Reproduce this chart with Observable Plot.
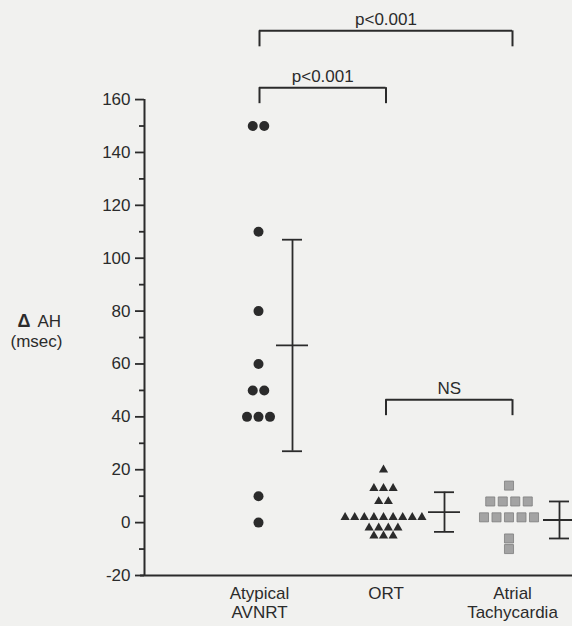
<!DOCTYPE html>
<html>
<head>
<meta charset="utf-8">
<script src="https://cdn.jsdelivr.net/npm/d3@7"></script>
<script src="https://cdn.jsdelivr.net/npm/@observablehq/plot@0.6"></script>
<style>
  html, body { margin: 0; padding: 0; background: #f1f1ef; }
  #chart { width: 572px; height: 626px; }
</style>
</head>
<body>
<div id="chart"></div>
<script>
// ---- data ----
const categories = ["Atypical\nAVNRT", "ORT", "Atrial\nTachycardia"];
const avnrtValues = [150, 150, 110, 80, 60, 50, 50, 40, 40, 40, 10, 0];
const ortValues = [20, 13, 13, 13, 8, 8, 2, 2, 2, 2, 2, 2, 2, 2, 2, -2, -2, -2, -2, -5, -5, -5];
const atrialValues = [14, 8, 8, 8, 8, 2, 2, 2, 2, 2, -6, -10];
const groupMeans = [67, 4, 1];
const groupSDs = [40, 7.5, 7];
const yTicks = [-20, 0, 20, 40, 60, 80, 100, 120, 140, 160];
const yMinorTicks = [-10, 10, 30, 50, 70, 90, 110, 130, 150];
const comparisons = [
  {from: 1, to: 3, label: "p<0.001", level: 186},
  {from: 1, to: 2, label: "p<0.001", level: 164.5},
  {from: 2, to: 3, label: "NS", level: 46.5}
];
const yLabelLines = ["AH", "(msec)"];

// ---- layout ----
const W = 572, H = 626;
const marginLeft = 144, marginRight = 0, marginTop = 0, marginBottom = 51;
const xDomain = [0.0909, 3.4743];
const yDomain = [-20, 197.47];
const pxX = (W - marginLeft - marginRight) / (xDomain[1] - xDomain[0]);
const pxY = (H - marginTop - marginBottom) / (yDomain[1] - yDomain[0]);
const spacing = [11.5, 9.6, 12.5];        // px between side-by-side symbols
const pointShift = [-1, -2.5, -3.5];      // px shift of each cloud
const errOffset = [33, 58.5, 47];         // px offset of SD bars
const capHalf = 10, meanHalf = 16;
const legPx = 16;
const ink = "#2b2b2b";

function spread(values, c) {
  const counts = d3.rollup(values, v => v.length, d => d);
  const seen = new Map();
  return values.map(v => {
    const n = counts.get(v);
    const i = seen.get(v) ?? 0;
    seen.set(v, i + 1);
    const off = (i - (n - 1) / 2) * spacing[c] + pointShift[c];
    return {cat: c + 1, value: v, x: c + 1 + off / pxX};
  });
}
const avnrtPts = spread(avnrtValues, 0);
const ortPts = spread(ortValues, 1);
const atrialPts = spread(atrialValues, 2);

const stats = groupMeans.map((m, i) => ({
  cat: i + 1, mean: m, lo: m - groupSDs[i], hi: m + groupSDs[i],
  xc: i + 1 + errOffset[i] / pxX
}));

const legs = comparisons.flatMap(c => [c.from, c.to].map(x => ({x, y1: c.level - legPx / pxY, y2: c.level})));

const chart = Plot.plot({
  width: W, height: H,
  marginLeft, marginRight, marginTop, marginBottom,
  x: {domain: xDomain, axis: null},
  y: {domain: yDomain, axis: null},
  style: {fontFamily: "'Liberation Sans', Arial, sans-serif", fontSize: "17px", color: ink, background: "#f1f1ef"},
  marks: [
    // axes
    Plot.ruleX([xDomain[0]], {y1: -20, y2: 160, stroke: ink, strokeWidth: 2}),
    Plot.ruleY([-20], {x1: xDomain[0] - 4 / pxX, x2: xDomain[1], stroke: ink, strokeWidth: 2}),
    Plot.axisY({ticks: yTicks, tickSize: 9, tickPadding: 5, fontSize: 17, label: null, stroke: ink, strokeWidth: 1.8, tickFormat: d => d < 0 ? "-" + Math.abs(d) : String(d)}),
    Plot.axisY({ticks: yMinorTicks, tickSize: 5, text: null, label: null, stroke: ink, strokeWidth: 1.8}),
    // category labels
    Plot.text(categories, {x: (d, i) => i + 1, y: -20, dy: 10, lineAnchor: "top", lineHeight: 1.12, fontSize: 17, fill: ink}),
    // y label
    Plot.text(["\u0394"], {frameAnchor: "left", y: 76, dx: -127, textAnchor: "start", fontWeight: "bold", fontSize: 18, fill: ink}),
    Plot.text([yLabelLines[0]], {frameAnchor: "left", y: 76, dx: -107, textAnchor: "start", fontSize: 17, fill: ink}),
    Plot.text([yLabelLines[1]], {frameAnchor: "left", y: 68.5, dx: -108, textAnchor: "middle", fontSize: 17, fill: ink}),
    // points
    Plot.dot(avnrtPts, {x: "x", y: "value", r: 5, fill: ink, stroke: "none"}),
    Plot.dot(ortPts, {x: "x", y: "value", r: 3.4, symbol: "triangle", fill: ink, stroke: "none"}),
    Plot.dot(atrialPts, {x: "x", y: "value", r: 5.1, symbol: "square", fill: "#a3a3a3", stroke: "#7d7d7d", strokeWidth: 0.8}),
    // SD bars
    Plot.ruleX(stats, {x: "xc", y1: "lo", y2: "hi", stroke: ink, strokeWidth: 1.8}),
    Plot.ruleY(stats, {y: "hi", x1: d => d.xc - capHalf / pxX, x2: d => d.xc + capHalf / pxX, stroke: ink, strokeWidth: 1.8}),
    Plot.ruleY(stats, {y: "lo", x1: d => d.xc - capHalf / pxX, x2: d => d.xc + capHalf / pxX, stroke: ink, strokeWidth: 1.8}),
    Plot.ruleY(stats, {y: "mean", x1: d => d.xc - meanHalf / pxX, x2: d => d.xc + meanHalf / pxX, stroke: ink, strokeWidth: 1.8}),
    // comparison brackets
    Plot.ruleY(comparisons, {y: "level", x1: "from", x2: "to", stroke: ink, strokeWidth: 2}),
    Plot.ruleX(legs, {x: "x", y1: "y1", y2: "y2", stroke: ink, strokeWidth: 2}),
    Plot.text(comparisons, {x: d => (d.from + d.to) / 2, y: "level", dy: -11, text: "label", fontSize: 17, fill: ink})
  ]
});
document.getElementById("chart").appendChild(chart);
</script>
</body>
</html>
